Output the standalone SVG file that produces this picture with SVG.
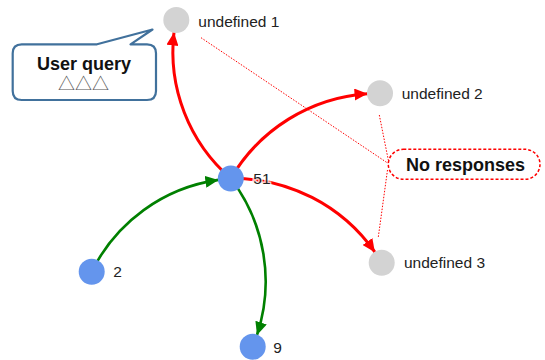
<svg xmlns="http://www.w3.org/2000/svg" width="545" height="360" viewBox="0 0 545 360">
  <style>
    .link { fill: none; }
    .red { stroke: #ff0000; stroke-width: 3; }
    .green { stroke: #008000; stroke-width: 2.6; }
    .dot { fill: none; stroke: #ff0000; stroke-width: 1; stroke-dasharray: 1.5 1.5; }
    .blue { fill: #6495ed; }
    .grey { fill: #d3d3d3; }
    .label { font-family: "Liberation Sans", Arial, sans-serif; font-size: 15.5px; fill: #222; }
    .halo { paint-order: stroke; stroke: #fff; stroke-opacity: 0.75; stroke-width: 3; }
    .note { font-family: "Liberation Sans", Arial, sans-serif; font-size: 18px; font-weight: bold; fill: #111; text-anchor: middle; }
  </style>
  <defs>
    <marker id="arrow-red" viewBox="0 -6 13 12" refX="13" refY="0" markerWidth="13" markerHeight="12" markerUnits="userSpaceOnUse" orient="auto">
      <path d="M0,-6 L13,0 L0,6 Z" fill="#ff0000"/>
    </marker>
    <marker id="arrow-green" viewBox="0 -6 13 12" refX="13" refY="0" markerWidth="13" markerHeight="12" markerUnits="userSpaceOnUse" orient="auto">
      <path d="M0,-6 L13,0 L0,6 Z" fill="#008000"/>
    </marker>
  </defs>

  <!-- annotation leaders -->
  <g id="annotation-lines">
    <line class="dot" x1="201" y1="37.7" x2="388.3" y2="163.5"/>
    <line class="dot" x1="379.3" y1="115" x2="388.3" y2="160"/>
    <line class="dot" x1="387.5" y1="170" x2="378.3" y2="237"/>
  </g>

  <!-- connectors: arcs with radius equal to the chord length -->
  <g id="links">
    <path class="link red" d="M230.8,178.5 A167.7,167.7 0 0,1 174.0,32.4" marker-end="url(#arrow-red)"/>
    <path class="link red" d="M230.8,178.5 A171.8,171.8 0 0,1 367.5,93.7" marker-end="url(#arrow-red)"/>
    <path class="link red" d="M230.8,178.5 A172.8,172.8 0 0,1 374.9,252.2" marker-end="url(#arrow-red)"/>
    <path class="link green" d="M91.7,271.7 A167.4,167.4 0 0,1 218.4,179.9" marker-end="url(#arrow-green)"/>
    <path class="link green" d="M230.8,178.5 A169.6,169.6 0 0,1 257.0,335.0" marker-end="url(#arrow-green)"/>
  </g>

  <!-- nodes -->
  <g id="node-u1">
    <circle class="grey" cx="176.3" cy="20" r="13"/>
    <text class="label" x="198.3" y="26.5">undefined 1</text>
  </g>
  <g id="node-u2">
    <circle class="grey" cx="380" cy="93.3" r="13"/>
    <text class="label" x="401.7" y="98.5">undefined 2</text>
  </g>
  <g id="node-u3">
    <circle class="grey" cx="381.7" cy="262.7" r="13"/>
    <text class="label" x="404" y="268.3">undefined 3</text>
  </g>
  <g id="node-51">
    <circle class="blue" cx="230.8" cy="178.5" r="13"/>
    <text class="label halo" x="253.3" y="183.5">51</text>
  </g>
  <g id="node-2">
    <circle class="blue" cx="91.7" cy="271.7" r="13"/>
    <text class="label" x="113.3" y="277">2</text>
  </g>
  <g id="node-9">
    <circle class="blue" cx="252.7" cy="346.7" r="13"/>
    <text class="label" x="273.3" y="353.3">9</text>
  </g>

  <!-- callout: user query -->
  <g id="callout-query">
    <path d="M21.7,44.3 L97,44.3 L152.5,29.5 L130.5,44.3 L147,44.3 Q156,44.3 156,53.3 L156,91 Q156,100 147,100 L21.7,100 Q12.7,100 12.7,91 L12.7,53.3 Q12.7,44.3 21.7,44.3 Z" fill="#fff" stroke="#41719c" stroke-width="2.2" stroke-linejoin="round"/>
    <text class="note" x="84" y="70">User query</text>
    <text x="83.5" y="89.5" text-anchor="middle" font-family="'Noto Sans CJK JP', 'DejaVu Sans', sans-serif" font-size="17px" fill="#555">△△△</text>
  </g>

  <!-- callout: no responses -->
  <g id="callout-none">
    <rect x="388.3" y="149.3" width="151.7" height="30" rx="15" ry="15" fill="#fff" stroke="#ff0000" stroke-width="1.5" stroke-dasharray="3 2"/>
    <text class="note" x="465.5" y="170.5">No responses</text>
  </g>
</svg>
